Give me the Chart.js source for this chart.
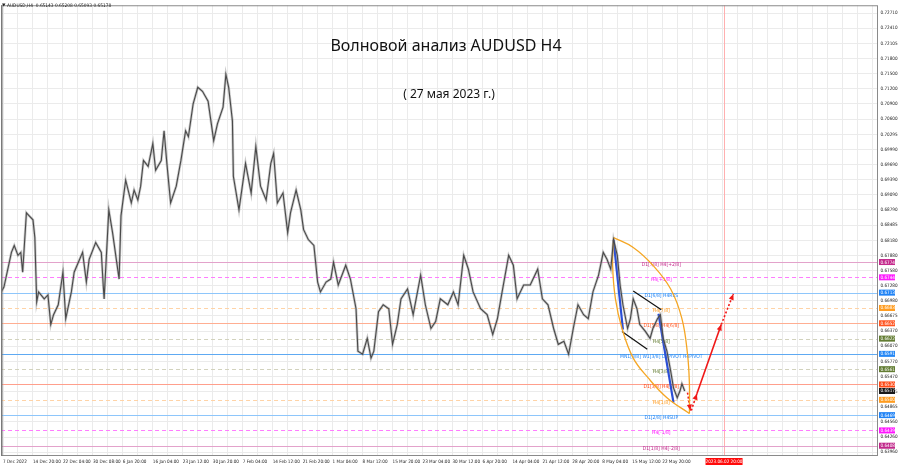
<!DOCTYPE html>
<html>
<head>
<meta charset="utf-8">
<script src="https://cdn.jsdelivr.net/npm/chart.js@4.4.0/dist/chart.umd.min.js"></script>
<style>
  html, body { margin: 0; padding: 0; background: #fff; }
  #wrap { width: 900px; height: 468px; }
</style>
</head>
<body>
<div id="wrap"><canvas id="c" width="900" height="468"></canvas></div>
<script>
// AUDUSD H4 wave chart. x = H4 bar index counted from 7 Dec 2022 (one time label every 32 bars).
const TIME_LABELS = ["7 Dec 2022", "14 Dec 20:00", "22 Dec 04:00", "30 Dec 08:00", "6 Jan 20:00",
  "16 Jan 04:00", "23 Jan 12:00", "30 Jan 20:00", "7 Feb 04:00", "14 Feb 12:00", "21 Feb 20:00",
  "1 Mar 04:00", "8 Mar 12:00", "15 Mar 20:00", "23 Mar 04:00", "30 Mar 12:00", "6 Apr 20:00",
  "14 Apr 04:00", "21 Apr 12:00", "28 Apr 20:00", "8 May 04:00", "15 May 12:00", "22 May 20:00"];
const BARS_PER_LABEL = 32;

const PRICE_TICKS = [0.72710, 0.72410, 0.72105, 0.71800, 0.71500, 0.71200, 0.70900, 0.70600,
  0.70295, 0.69990, 0.69690, 0.69390, 0.69090, 0.68790, 0.68485, 0.68180, 0.67880, 0.67580,
  0.67280, 0.66980, 0.66675, 0.66370, 0.66070, 0.65770, 0.65470, 0.65165, 0.64865, 0.64560,
  0.64260, 0.63960];

// price path
const BARS = [
  -2, 1, 9, 12, 16, 19, 21, 25, 28, 32,
  34, 36, 38, 44, 48, 51, 54, 59, 64, 67,
  73, 76, 85, 89, 92, 99, 105, 107, 108, 113,
  117, 121, 124, 126, 131, 137, 140, 144, 147, 150,
  155, 160, 163, 169, 172, 175, 179, 185, 190, 195,
  198, 203, 208, 213, 219, 225, 229, 235, 238, 241,
  245, 246, 252, 259, 265, 270, 275, 281, 286, 289,
  293, 299, 304, 307, 313, 318, 321, 326, 332, 336,
  339, 345, 350, 353, 358, 366, 371, 377, 379, 384,
  389, 393, 396, 401, 406, 412, 416, 421, 425, 432,
  438, 446, 451, 457, 462, 467, 475, 481, 486, 492,
  497, 502, 510, 517, 523, 528, 533, 540, 545, 549,
  556, 563, 571, 576, 582, 588, 593, 599, 604, 609,
  614, 620, 625, 630, 636, 641, 645, 649, 652, 656,
  659, 662, 667, 670, 673, 677, 680, 686, 691, 694,
  699, 702, 705, 709, 713, 716, 720, 723, 725, 728];
const CLOSES = [
  0.67153, 0.67251, 0.67941, 0.68079, 0.67882, 0.67941, 0.67547, 0.68730, 0.68670, 0.68592,
  0.68237, 0.66956, 0.67153, 0.67015, 0.67094, 0.66503, 0.66700, 0.66897, 0.67547, 0.66621,
  0.67153, 0.67547, 0.67941, 0.67350, 0.67803, 0.68138, 0.67941, 0.67291, 0.67015, 0.68789,
  0.68335, 0.67803, 0.67409, 0.68670, 0.69380, 0.68927, 0.69183, 0.68986, 0.69262, 0.69774,
  0.69656, 0.70109, 0.69577, 0.69774, 0.70365, 0.69715, 0.68927, 0.69262, 0.69774, 0.70365,
  0.70247, 0.70897, 0.71232, 0.71154, 0.70956, 0.70168, 0.70503, 0.70838, 0.71489, 0.71232,
  0.70562, 0.69459, 0.68789, 0.69715, 0.69124, 0.70050, 0.69262, 0.68986, 0.69715, 0.69912,
  0.68927, 0.69124, 0.68335, 0.68730, 0.69183, 0.68789, 0.68395, 0.68197, 0.68079, 0.67350,
  0.67153, 0.67350, 0.67409, 0.67744, 0.67291, 0.67685, 0.67409, 0.66818, 0.65971, 0.65911,
  0.66227, 0.65833, 0.65971, 0.66759, 0.66897, 0.66818, 0.66108, 0.66503, 0.67015, 0.67212,
  0.66700, 0.67488, 0.66897, 0.66424, 0.66562, 0.67015, 0.66897, 0.67153, 0.66897, 0.67882,
  0.67606, 0.67153, 0.66818, 0.66700, 0.66306, 0.66621, 0.67153, 0.67882, 0.67685, 0.67015,
  0.67291, 0.67291, 0.67606, 0.67015, 0.66897, 0.66424, 0.66108, 0.66168, 0.65911, 0.66424,
  0.66897, 0.66700, 0.66621, 0.67153, 0.67488, 0.67941, 0.67803, 0.67606, 0.68197, 0.67882,
  0.67291, 0.66897, 0.66424, 0.66621, 0.67015, 0.66818, 0.66503, 0.66365, 0.66227, 0.66424,
  0.66621, 0.66700, 0.66227, 0.65971, 0.65576, 0.65241, 0.65044, 0.65182, 0.65320, 0.65178];

const HEADER = "AUDUSD,H4  0.65143 0.65208 0.65093 0.65178";
const LAST_PRICE = 0.65178;

// Murrey / pivot levels and their tags
const LEVELS = [0.67749, 0.67444, 0.67139, 0.66833, 0.66528, 0.66222, 0.65918,
  0.65613, 0.65308, 0.65002, 0.64697, 0.64392, 0.64087];
const LEVEL_NAMES = ["D1[7/8] H4[+2/8]", "H4[+1/8]", "D1[6/8] H4RES", "H4[7/8]",
  "D1[5/8] H4[6/8]", "H4[5/8]", "MN1[3/8] W1[3/8] D1PIVOT H4PIVOT", "H4[3/8]",
  "D1[3/8] H4[2/8]", "H4[1/8]", "D1[2/8] H4SUP", "H4[-1/8]", "D1[1/8] H4[-2/8]"];
const LEVEL_NAME_BAR = 703;

const FUTURE_BAR = 770;
const FUTURE_LABEL = "2023.06.02 20:00";

// wave markup: [bar, price] pairs
const WAVE_1 = [[652, 0.68197], [662, 0.66404]];
const WAVE_3 = [[700, 0.66719], [716, 0.64946]];
const CHANNEL_TOP = [[673, 0.67173], [703, 0.66798]];
const CHANNEL_BOT = [[661, 0.66365], [688, 0.66010]];
const LENS_RIGHT = [[652, 0.68237], [673, 0.68040], [694, 0.67685], [713, 0.67212],
  [725, 0.66621], [731, 0.65911], [733, 0.65320], [733, 0.64729]];
const LENS_LEFT = [[652, 0.68237], [651, 0.67685], [654, 0.67015], [661, 0.66424],
  [673, 0.65833], [689, 0.65438], [709, 0.65044], [733, 0.64729]];
const FORECAST_DOWN = [[731, 0.65143], [734, 0.64788]];
const FORECAST_TURN = [[735, 0.64788], [741, 0.65123]];
const FORECAST_UP = [[741, 0.65123], [767, 0.66503]];
const FORECAST_NEXT = [[767, 0.66503], [780, 0.67114]];

// axis extents (plot spans the whole width up to the price scale)
const X_MIN = -2.1, X_MAX = 934.4;
const Y_MIN = 0.63882, Y_MAX = 0.72868;

const LEVEL_STYLE = [
  { line: "#e3a2cb", box: "#c42a8c", dash: false },
  { line: "#ff7cff", box: "#ff1aff", dash: true },
  { line: "#8ec6fb", box: "#2083f5", dash: false },
  { line: "#ffd3a6", box: "#ff9c1f", dash: true },
  { line: "#ffae92", box: "#ff5522", dash: false },
  { line: "#d2d2bd", box: "#627c32", dash: true },
  { line: "#5ea9f2", box: "#2487f5", dash: false },
  { line: "#d2d2bd", box: "#627c32", dash: true },
  { line: "#ff9f8c", box: "#ff4814", dash: false },
  { line: "#ffd3a6", box: "#ff9c1f", dash: true },
  { line: "#8ec6fb", box: "#2083f5", dash: false },
  { line: "#ff7cff", box: "#ff14ff", dash: true },
  { line: "#e3a2cb", box: "#c0288a", dash: false },
];

const SMALL = '"Liberation Sans Narrow", "DejaVu Sans Condensed", "Liberation Sans", sans-serif';
const pts = (arr) => arr.map(([x, y]) => ({ x, y }));

const seg = (data, color, width, extra) => Object.assign({
  data: pts(data), borderColor: color, borderWidth: width, pointRadius: 0,
  fill: false, tension: 0, clip: false }, extra || {});

const datasets = [
  // wick halo + close line
  { data: BARS.map((b, i) => ({ x: b, y: CLOSES[i] })), borderColor: "rgba(120,120,120,0.4)",
    borderWidth: 2.6, pointRadius: 0, tension: 0 },
  { data: BARS.map((b, i) => ({ x: b, y: CLOSES[i] })), borderColor: "#2a2a2a",
    borderWidth: 1.1, pointRadius: 0, tension: 0 },
  seg(LENS_RIGHT, "#f5a623", 1.3, { tension: 0.4 }),
  seg(LENS_LEFT, "#f5a623", 1.3, { tension: 0.4 }),
  seg(WAVE_1, "#2b4fd6", 2.2),
  seg(WAVE_3, "#2b4fd6", 2.2),
  seg(CHANNEL_TOP, "#111", 1.2),
  seg(CHANNEL_BOT, "#111", 1.2),
  seg(FORECAST_DOWN, "#f01818", 1.6, { borderDash: [2, 2], arrow: true }),
  seg(FORECAST_TURN, "#f01818", 1.6, { borderDash: [2, 2], arrow: true }),
  seg(FORECAST_UP, "#f01818", 1.6, { arrow: true }),
  seg(FORECAST_NEXT, "#f01818", 1.6, { borderDash: [2, 2], arrow: true }),
];

const decor = {
  id: "decor",
  beforeDatasetsDraw(chart) {
    const { ctx, chartArea: a, scales: { x, y } } = chart;
    ctx.save();
    const fx = Math.round(x.getPixelForValue(FUTURE_BAR)) + 0.5;
    ctx.strokeStyle = "#ffb0b0"; ctx.lineWidth = 1;
    ctx.beginPath(); ctx.moveTo(fx, a.top); ctx.lineTo(fx, a.bottom); ctx.stroke();

    const lx = x.getPixelForValue(LEVEL_NAME_BAR);
    LEVELS.forEach((p, i) => {
      const st = LEVEL_STYLE[i];
      const py = Math.round(y.getPixelForValue(p)) + 0.5;
      ctx.strokeStyle = st.line; ctx.lineWidth = 1;
      ctx.setLineDash(st.dash ? [4, 3] : []);
      ctx.beginPath(); ctx.moveTo(a.left, py); ctx.lineTo(a.right, py); ctx.stroke();
      ctx.setLineDash([]);
      ctx.fillStyle = st.box;
      ctx.font = "5px " + SMALL;
      ctx.textAlign = "center"; ctx.textBaseline = "middle";
      ctx.fillText(LEVEL_NAMES[i], lx, py + 2.5);
    });
    ctx.restore();
  },
  afterDatasetsDraw(chart) {
    const { ctx } = chart;
    ctx.save();
    chart.data.datasets.forEach((ds, i) => {
      if (!ds.arrow) return;
      const pts = chart.getDatasetMeta(i).data;
      const p1 = pts[pts.length - 2], p2 = pts[pts.length - 1];
      const ang = Math.atan2(p2.y - p1.y, p2.x - p1.x), L = 6, W = 2.6;
      ctx.fillStyle = ds.borderColor;
      ctx.beginPath();
      ctx.moveTo(p2.x, p2.y);
      ctx.lineTo(p2.x - L * Math.cos(ang) + W * Math.sin(ang), p2.y - L * Math.sin(ang) - W * Math.cos(ang));
      ctx.lineTo(p2.x - L * Math.cos(ang) - W * Math.sin(ang), p2.y - L * Math.sin(ang) + W * Math.cos(ang));
      ctx.closePath(); ctx.fill();
    });
    ctx.restore();
  },
  afterDraw(chart) {
    const { ctx, chartArea: a, scales: { x, y } } = chart;
    ctx.save();
    // frame
    ctx.strokeStyle = "#8a8a8a"; ctx.lineWidth = 1;
    ctx.strokeRect(a.left + 0.5, a.top + 0.5, a.right - a.left - 1, a.bottom - a.top - 1);
    ctx.fillStyle = "#7a7a7a"; ctx.fillRect(a.left, a.top, 1.5, a.bottom - a.top);

    // price scale markers
    ctx.font = "4.6px " + SMALL; ctx.textAlign = "left"; ctx.textBaseline = "middle";
    const marker = (p, bg) => {
      const py = y.getPixelForValue(p);
      ctx.fillStyle = bg; ctx.fillRect(a.right + 1, py - 3, 16, 6);
      ctx.fillStyle = "#fff"; ctx.fillText(p.toFixed(5), a.right + 2.5, py + 0.3);
    };
    LEVELS.forEach((p, i) => marker(p, LEVEL_STYLE[i].box));
    marker(LAST_PRICE, "#1a1a1a");

    // future time marker on the time scale
    const fx = x.getPixelForValue(FUTURE_BAR);
    ctx.fillStyle = "#ff0a0a"; ctx.fillRect(fx - 18.5, a.bottom + 2, 37, 7);
    ctx.fillStyle = "#fff"; ctx.textAlign = "center";
    ctx.fillText(FUTURE_LABEL, fx, a.bottom + 5.7);

    // header
    ctx.fillStyle = "#222";
    ctx.beginPath(); ctx.moveTo(2, 3.5); ctx.lineTo(5.5, 3.5); ctx.lineTo(3.75, 6.5); ctx.closePath(); ctx.fill();
    ctx.textAlign = "left"; ctx.font = "4.8px " + SMALL;
    ctx.fillText(HEADER, 7, 5.5);

    // titles
    ctx.fillStyle = "#111"; ctx.textAlign = "center";
    ctx.font = '16px "Noto Sans", sans-serif';
    ctx.fillText("Волновой анализ AUDUSD H4", 446, 46);
    ctx.font = '12px "Noto Sans", sans-serif';
    ctx.fillText("( 27 мая 2023 г.)", 449, 95);
    ctx.restore();
  },
};

new Chart(document.getElementById("c"), {
  type: "line",
  data: { datasets },
  options: {
    responsive: false, animation: false,
    layout: { padding: 0 },
    plugins: { legend: { display: false }, tooltip: { enabled: false } },
    elements: { point: { radius: 0 } },
    scales: {
      x: {
        type: "linear", min: X_MIN, max: X_MAX,
        afterFit: (s) => { s.height = 12; },
        afterBuildTicks: (s) => {
          const t = [];
          for (let b = 0; b <= X_MAX; b += BARS_PER_LABEL / 2) t.push({ value: b });
          s.ticks = t;
        },
        grid: { color: "#ebebeb", drawTicks: false },
        border: { display: false },
        ticks: {
          autoSkip: false, maxRotation: 0, minRotation: 0, align: "start", padding: 3,
          color: "#222", font: { size: 4.6, family: SMALL },
          callback: (v) => {
            const k = v / BARS_PER_LABEL;
            return Number.isInteger(k) && k < TIME_LABELS.length ? TIME_LABELS[k] : "";
          },
        },
      },
      y: {
        position: "right", min: Y_MIN, max: Y_MAX,
        afterFit: (s) => { s.width = 22; },
        afterBuildTicks: (s) => { s.ticks = PRICE_TICKS.map((v) => ({ value: v })); },
        grid: { color: "#ebebeb", drawTicks: false },
        border: { display: false },
        ticks: { padding: 2.5, color: "#222", font: { size: 4.6, family: SMALL },
          callback: (v) => v.toFixed(5) },
      },
    },
  },
  plugins: [decor],
});
</script>
</body>
</html>
